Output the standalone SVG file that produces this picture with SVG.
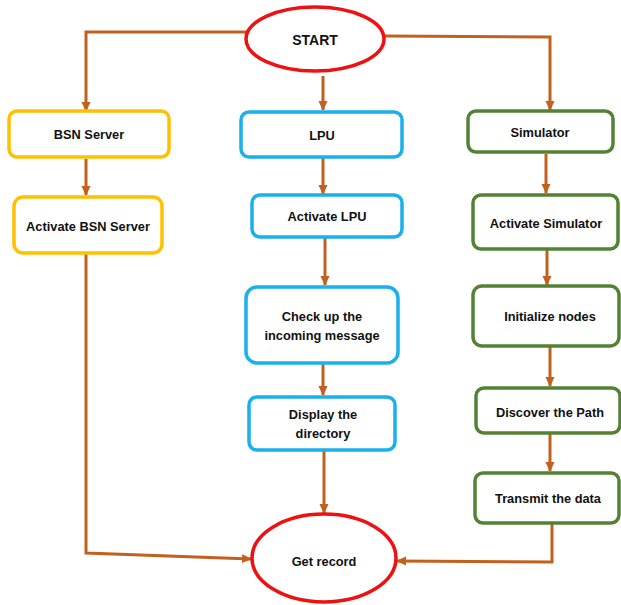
<svg xmlns="http://www.w3.org/2000/svg" width="621" height="605" viewBox="0 0 621 605">
<defs>
<marker id="ah" markerWidth="10" markerHeight="10" refX="9" refY="5" orient="auto" markerUnits="userSpaceOnUse">
<path d="M0,0.5 L10,5 L0,9.5 Z" fill="#C2601E"/>
</marker>
<style>
.c{fill:none;stroke:#C2601E;stroke-width:3;marker-end:url(#ah)}
.y{fill:#fff;stroke:#FFC000;stroke-width:3.5}
.b{fill:#fff;stroke:#1AB0EC;stroke-width:3.5}
.g{fill:#fff;stroke:#548235;stroke-width:3.5}
.r{fill:#fff;stroke:#EE1111;stroke-width:3.5}
text{font-family:"Liberation Sans",Arial,sans-serif;font-weight:bold;font-size:12.8px;fill:#111;text-anchor:middle;dominant-baseline:central}
</style>
</defs>
<rect width="621" height="605" fill="#fff"/>
<g id="connectors">
<polyline class="c" points="247,32 86,32 86,111"/>
<polyline class="c" points="384,36 550,37 550,110"/>
<line class="c" x1="323" y1="76" x2="323" y2="110"/>
<line class="c" x1="86" y1="159" x2="86" y2="195"/>
<line class="c" x1="323" y1="158" x2="323" y2="194"/>
<line class="c" x1="546" y1="154" x2="546" y2="193"/>
<polyline class="c" points="86,254 86,553 251,559"/>
<line class="c" x1="325" y1="238" x2="325" y2="285"/>
<line class="c" x1="547" y1="250" x2="547" y2="285"/>
<line class="c" x1="323" y1="364" x2="323" y2="395"/>
<line class="c" x1="550" y1="347" x2="550" y2="386"/>
<line class="c" x1="550" y1="434" x2="550" y2="471"/>
<line class="c" x1="324" y1="451" x2="324" y2="513"/>
<polyline class="c" points="552,524 552,562 397,561"/>
</g>
<g id="start"><ellipse class="r" cx="315" cy="39" rx="69" ry="32"/><text x="315" y="40" style="font-size:14px">START</text></g>
<g id="bsn-server"><rect class="y" x="9" y="111" width="160" height="46" rx="8"/><text x="89" y="134">BSN Server</text></g>
<g id="lpu"><rect class="b" x="241" y="112" width="161" height="45" rx="8"/><text x="322" y="135">LPU</text></g>
<g id="simulator"><rect class="g" x="468" y="111" width="145" height="41" rx="8"/><text x="540" y="132">Simulator</text></g>
<g id="activate-bsn"><rect class="y" x="14" y="197" width="148" height="56" rx="9"/><text x="88" y="226">Activate BSN Server</text></g>
<g id="activate-lpu"><rect class="b" x="252" y="195" width="150" height="42" rx="8"/><text x="327" y="216">Activate LPU</text></g>
<g id="activate-sim"><rect class="g" x="473" y="195" width="145" height="54" rx="8"/><text x="546" y="223">Activate Simulator</text></g>
<g id="check-up"><rect class="b" x="246" y="287" width="152" height="76" rx="11"/><text x="322" y="316">Check up the</text><text x="322" y="335">incoming message</text></g>
<g id="initialize"><rect class="g" x="473" y="286" width="146" height="60" rx="9"/><text x="550" y="316">Initialize nodes</text></g>
<g id="display"><rect class="b" x="249" y="397" width="146" height="53" rx="8"/><text x="323" y="414">Display the</text><text x="323" y="433">directory</text></g>
<g id="discover"><rect class="g" x="476" y="388" width="144" height="45" rx="8"/><text x="550" y="412">Discover the Path</text></g>
<g id="transmit"><rect class="g" x="475" y="473" width="144" height="50" rx="8"/><text x="548" y="498">Transmit the data</text></g>
<g id="get-record"><ellipse class="r" cx="324" cy="558" rx="72" ry="44"/><text x="324" y="561">Get record</text></g>
</svg>
